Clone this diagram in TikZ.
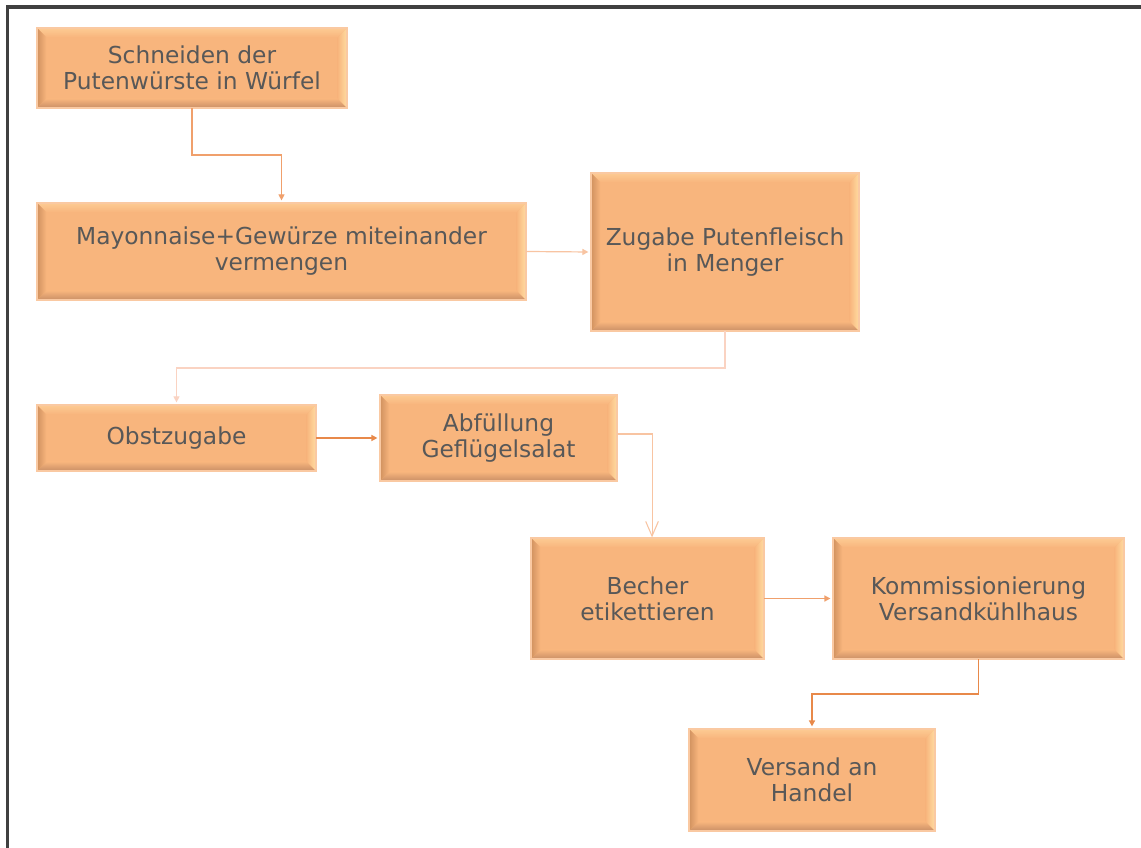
\documentclass[tikz,border=0pt]{standalone}
\usepackage{fontspec}
\setmainfont{DejaVu Sans}
\usetikzlibrary{arrows.meta,calc}

\definecolor{boxfill}{HTML}{F8B57D}
\definecolor{boxedge}{HTML}{FAC9A2}
\definecolor{bevtop}{HTML}{FDCB93}
\definecolor{bevbot}{HTML}{C98F66}
\definecolor{bevleft}{HTML}{D0915F}
\definecolor{bevright}{HTML}{FFDDA2}
\definecolor{txtgray}{HTML}{585858}
\definecolor{framegray}{HTML}{404040}
\definecolor{linkmid}{HTML}{F0A06C}
\definecolor{linklight}{HTML}{F8C4A2}
\definecolor{linkpale}{HTML}{FAD3C2}
\definecolor{linkdark}{HTML}{E8894A}

\begin{document}
\begin{tikzpicture}[x=0.75pt,y=-0.75pt,
  bevel/.style={path picture={
    \coordinate (bsw) at (path picture bounding box.south west);
    \coordinate (bne) at (path picture bounding box.north east);
    \coordinate (bnw) at (bsw |- bne);
    \coordinate (bse) at (bne |- bsw);
    \shade[top color=bevtop, bottom color=boxfill]
      (bnw) -- (bne) -- ([shift={(-7pt,-7pt)}]bne) -- ([shift={(7pt,-7pt)}]bnw) -- cycle;
    \shade[bottom color=bevbot, top color=boxfill]
      (bsw) -- (bse) -- ([shift={(-7pt,7pt)}]bse) -- ([shift={(7pt,7pt)}]bsw) -- cycle;
    \shade[left color=bevleft, right color=boxfill]
      (bsw) -- (bnw) -- ([shift={(7pt,-7pt)}]bnw) -- ([shift={(7pt,7pt)}]bsw) -- cycle;
    \shade[right color=bevright, left color=boxfill]
      (bse) -- (bne) -- ([shift={(-7pt,-7pt)}]bne) -- ([shift={(-7pt,7pt)}]bse) -- cycle;
  }},
  procbox/.style 2 args={rectangle, fill=boxfill, draw=boxedge, line width=0.9pt,
    bevel, inner sep=0pt, align=center, text=txtgray,
    font=\fontsize{17.5pt}{19.5pt}\selectfont,
    minimum width=#1*0.75pt, minimum height=#2*0.75pt},
  smalltip/.style={-{Triangle[length=4.5pt,width=4.5pt]}, shorten >=1.5pt},
  link/.style={line width=0.9pt, line cap=rect}
]
\useasboundingbox (0,0) rectangle (1141,848);
\fill[white] (0,0) rectangle (1141,848);

% outer frame (only the left and top edges fall inside the page)
\draw[framegray, line width=2.4pt] (7.5,848) -- (7.5,7) -- (1141,7);

% process steps
\node[procbox={310}{80}]  (s1) at (192,68)      {Schneiden der\\Putenwürste in Würfel};
\node[procbox={489}{97}]  (s2) at (281.5,251.5) {Mayonnaise+Gewürze miteinander\\vermengen};
\node[procbox={268}{158}] (s3) at (725,252)     {Zugabe Putenfleisch\\in Menger};
\node[procbox={279}{66}]  (s4) at (176.5,438)   {Obstzugabe};
\node[procbox={237}{86}]  (s5) at (498.5,438)   {Abfüllung\\Geflügelsalat};
\node[procbox={233}{121}] (s6) at (647.5,598.5) {Becher\\etikettieren};
\node[procbox={291}{121}] (s7) at (978.5,598.5) {Kommissionierung\\Versandkühlhaus};
\node[procbox={246}{102}] (s8) at (812,780)     {Versand an\\Handel};

% heights of the horizontal runs of the elbow connectors
\coordinate (k1) at (0,155);
\coordinate (k3) at (0,368);
\coordinate (k7) at (0,694);

% connectors
\draw[link, linkmid, smalltip] (s1.south) -- (s1.south |- k1) -| (s2.north);
\draw[link, linklight, smalltip] (s2.east) -- (s3.west);
\draw[link, linkpale, line width=0.8pt, smalltip] (s3.south) -- (s3.south |- k3) -| (s4.north);
\draw[link, linkdark, line width=1.3pt, smalltip] (s4.east) -- (s5.west);
\draw[link, linklight, line width=0.8pt, -{Straight Barb[length=11pt,width=9.5pt]}]
  ([yshift=3pt]s5.east) -| ([xshift=3.4pt]s6.north);
\draw[link, linkmid, line width=1.1pt, smalltip] (s6.east) -- (s7.west);
\draw[link, linkdark, line width=1.1pt, smalltip] (s7.south) -- (s7.south |- k7) -| (s8.north);
\end{tikzpicture}
\end{document}
